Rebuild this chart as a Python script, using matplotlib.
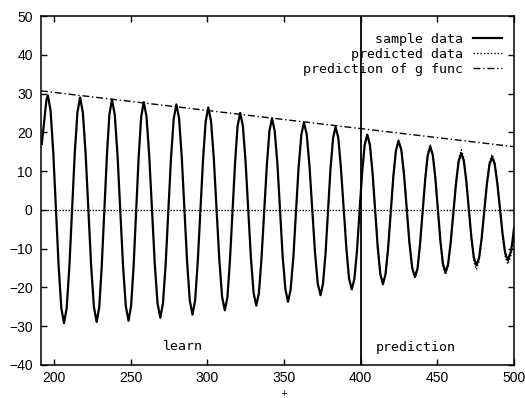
import matplotlib
matplotlib.use('Agg')
import matplotlib.pyplot as plt

# sample data (extrema + points in between)
sample_x = [192.0, 193.5, 195.0, 196.0,
            197.75, 199.5, 201.25, 203.0, 204.75, 206.5,
            208.25, 210.0, 211.75, 213.5, 215.25, 217.0,
            218.8, 220.6, 222.4, 224.2, 226.0, 227.8,
            229.5, 231.1, 232.8, 234.5, 236.1, 237.8,
            239.6, 241.4, 243.2, 245.0, 246.8, 248.6,
            250.25, 251.9, 253.55, 255.2, 256.85, 258.5,
            260.3, 262.1, 263.9, 265.7, 267.5, 269.3,
            271.05, 272.8, 274.55, 276.3, 278.05, 279.8,
            281.55, 283.3, 285.05, 286.8, 288.55, 290.3,
            292.0, 293.7, 295.45, 297.2, 298.9, 300.6,
            302.4, 304.2, 306.0, 307.8, 309.6, 311.4,
            313.1, 314.7, 316.4, 318.1, 319.7, 321.4,
            323.15, 324.9, 326.65, 328.4, 330.15, 331.9,
            333.6, 335.3, 337.05, 338.8, 340.5, 342.2,
            343.9, 345.7, 347.4, 349.1, 350.9, 352.6,
            354.3, 356.1, 357.8, 359.5, 361.3, 363.0,
            364.8, 366.6, 368.4, 370.2, 372.0, 373.8,
            375.4, 377.1, 378.7, 380.3, 382.0, 383.6,
            385.4, 387.1, 388.9, 390.7, 392.4, 394.2,
            395.9, 397.6, 399.25, 400.9, 402.6, 404.3,
            406.0, 407.7, 409.4, 411.1, 412.8, 414.5,
            416.2, 417.9, 419.6, 421.3, 423.0, 424.7,
            426.5, 428.3, 430.05, 431.8, 433.6, 435.4,
            437.1, 438.7, 440.4, 442.1, 443.7, 445.4,
            447.05, 448.7, 450.35, 452.0, 453.65, 455.3,
            457.0, 458.7, 460.45, 462.2, 463.9, 465.6,
            467.25, 468.9, 470.55, 472.2, 473.85, 475.5,
            477.2, 478.9, 480.6, 482.3, 484.0, 485.7,
            487.4, 489.1, 490.85, 492.6, 494.3, 496.0,
            498.0, 499.0, 500.0]
sample_y = [17.0, 22.5, 28.3, 29.5,
            25.6, 14.8, 0.15, -14.5, -25.3, -29.2,
            -25.3, -14.65, -0.1, 14.45, 25.1, 29.0,
            25.1, 14.5, 0.05, -14.4, -25.0, -28.9,
            -25.1, -14.6, -0.25, 14.1, 24.6, 28.4,
            24.6, 14.15, -0.1, -14.35, -24.8, -28.6,
            -24.8, -14.5, -0.4, 13.7, 24.0, 27.8,
            24.1, 13.9, 0.0, -13.9, -24.1, -27.8,
            -24.1, -14.05, -0.3, 13.45, 23.5, 27.2,
            23.6, 13.65, 0.1, -13.45, -23.4, -27.0,
            -23.4, -13.65, -0.3, 13.05, 22.8, 26.4,
            22.9, 13.3, 0.25, -12.8, -22.4, -25.9,
            -22.5, -13.2, -0.45, 12.3, 21.6, 25.0,
            21.7, 12.6, 0.15, -12.3, -21.4, -24.7,
            -21.5, -12.6, -0.55, 11.5, 20.4, 23.6,
            20.4, 11.8, -0.05, -11.9, -20.5, -23.7,
            -20.6, -12.15, -0.6, 10.95, 19.4, 22.5,
            19.5, 11.4, 0.25, -10.9, -19.0, -22.0,
            -19.1, -11.15, -0.3, 10.55, 18.5, 21.4,
            18.6, 10.9, 0.45, -10.0, -17.7, -20.5,
            -17.8, -10.5, -0.55, 9.4, 16.7, 19.4,
            16.8, 9.8, 0.15, -9.5, -16.5, -19.1,
            -16.6, -9.9, -0.65, 8.6, 15.3, 17.8,
            15.45, 9.0, 0.25, -8.5, -14.95, -17.3,
            -15.05, -8.9, -0.5, 7.9, 14.05, 16.3,
            14.1, 8.2, 0.1, -8.0, -13.9, -16.1,
            -14.05, -8.4, -0.75, 6.9, 12.5, 14.6,
            12.7, 7.4, 0.15, -7.1, -12.4, -14.3,
            -12.4, -7.3, -0.35, 6.6, 11.7, 13.6,
            11.8, 6.95, 0.3, -6.35, -11.2, -13.0,
            -10.7, -8.1, -4.8]

# predicted data (prediction part only)
pred_x = [399.25, 400.9, 402.6, 404.3,
          406.0, 407.7, 409.4, 411.1, 412.8, 414.5,
          416.2, 417.9, 419.6, 421.3, 423.0, 424.7,
          426.5, 428.3, 430.05, 431.8, 433.6, 435.4,
          437.1, 438.7, 440.4, 442.1, 443.7, 445.4,
          447.05, 448.7, 450.35, 452.0, 453.65, 455.3,
          457.0, 458.7, 460.45, 462.2, 463.9, 465.6,
          467.25, 468.9, 470.55, 472.2, 473.85, 475.5,
          477.2, 478.9, 480.6, 482.3, 484.0, 485.7,
          487.4, 489.1, 490.85, 492.6, 494.3, 496.0,
          498.0, 499.0, 500.0]
pred_y = [-0.5, 9.4, 16.8, 19.6,
          16.9, 9.8, 0.15, -9.5, -16.6, -19.3,
          -16.7, -9.9, -0.65, 8.6, 15.4, 18.0,
          15.6, 9.0, 0.25, -8.5, -15.2, -17.6,
          -15.3, -8.9, -0.5, 8.0, 14.3, 16.7,
          14.4, 8.3, 0.1, -8.2, -14.4, -16.7,
          -14.5, -8.6, -0.75, 7.2, 13.2, 15.5,
          13.5, 7.8, 0.15, -7.6, -13.4, -15.4,
          -13.3, -7.7, -0.35, 7.0, 12.4, 14.3,
          12.4, 7.3, 0.3, -6.8, -12.1, -14.0,
          -11.8, -9.2, -6.0]

# g func (envelope) prediction
gfunc_x = [191.5, 500.0]
gfunc_y = [30.7, 16.3]

split_x = 400
xticks = [200, 250, 300, 350, 400, 450, 500]
yticks = [-40, -30, -20, -10, 0, 10, 20, 30, 40, 50]

mono = 'DejaVu Sans Mono'

fig = plt.figure(figsize=(5.25, 3.98), dpi=100)
ax = fig.add_axes([41/525, 33/398, 473/525, 349/398])

ax.axhline(0, color='k', lw=0.9, ls=(0, (1.2, 1.2)))
ax.plot(sample_x, sample_y, color='k', lw=1.6, label='sample data')
ax.plot(pred_x, pred_y, color='k', lw=1.0, ls=(0, (1, 1.5)), label='predicted data')
ax.plot(gfunc_x, gfunc_y, color='k', lw=1.0, ls=(0, (5, 2, 1, 2)), label='prediction of g func')
ax.axvline(split_x, color='k', lw=1.3)

ax.text(284, -35.3, 'learn', ha='center', va='center', family=mono, fontsize=9.5)
ax.text(435.7, -35.5, 'prediction', ha='center', va='center', family=mono, fontsize=9.5)

ax.set_xlim(191.5, 500)
ax.set_ylim(-40, 50)
ax.set_xticks(xticks)
ax.set_yticks(yticks)
ax.tick_params(direction='in', top=True, right=True, length=4, width=1,
               labelsize=10, labelfontfamily='Liberation Sans')
ax.tick_params(axis='y', pad=6)
ax.tick_params(axis='x', pad=4)
for s in ax.spines.values():
    s.set_linewidth(1.1)

leg = ax.legend(loc='upper right', bbox_to_anchor=(1.0, 0.986), markerfirst=False,
                frameon=False, prop={'family': mono, 'size': 9.5}, handlelength=2.2,
                handletextpad=0.8, labelspacing=0.15, borderaxespad=0.5)

fig.text(284/525, 1 - 394/398, '+', fontsize=6, ha='center', va='center')

fig.savefig('out.png', dpi=100)
